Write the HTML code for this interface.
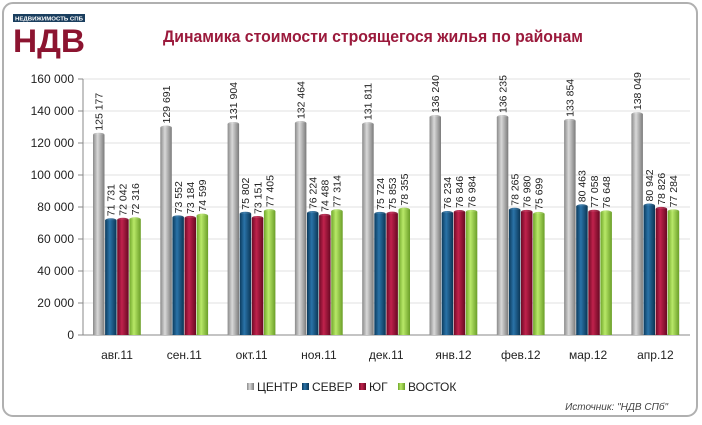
<!DOCTYPE html>
<html><head><meta charset="utf-8">
<style>
html,body{margin:0;padding:0;background:#fff;}
body{width:702px;height:420px;overflow:hidden;font-family:"Liberation Sans","DejaVu Sans",sans-serif;}
</style></head>
<body>
<svg id="c" width="702" height="420" xmlns="http://www.w3.org/2000/svg">
<defs>
<linearGradient id="g0" x1="0" x2="1"><stop offset="0" stop-color="#8a8a8a"/><stop offset="0.4" stop-color="#d8d8d8"/><stop offset="1" stop-color="#7a7a7a"/></linearGradient>
<linearGradient id="g1" x1="0" x2="1"><stop offset="0" stop-color="#0b3a5c"/><stop offset="0.4" stop-color="#2a73a8"/><stop offset="1" stop-color="#0a3554"/></linearGradient>
<linearGradient id="g2" x1="0" x2="1"><stop offset="0" stop-color="#6e0a26"/><stop offset="0.4" stop-color="#c0224c"/><stop offset="1" stop-color="#680822"/></linearGradient>
<linearGradient id="g3" x1="0" x2="1"><stop offset="0" stop-color="#6fa62a"/><stop offset="0.4" stop-color="#b8e868"/><stop offset="1" stop-color="#6a9e28"/></linearGradient>
</defs>
<rect x="3" y="3" width="694" height="413" rx="10" fill="#fff" stroke="#b0b0b0" stroke-width="2"/>
<rect x="13" y="14" width="72" height="8" fill="#1a3e5e"/>
<text x="49" y="20.5" font-size="5.8" font-weight="bold" fill="#fff" text-anchor="middle" textLength="68" lengthAdjust="spacingAndGlyphs">НЕДВИЖИМОСТЬ СПБ</text>
<text x="13" y="52" font-size="32" font-weight="bold" fill="#8c1430" textLength="72" lengthAdjust="spacingAndGlyphs">НДВ</text>
<text x="373" y="42" font-size="17" font-weight="bold" fill="#9b1a3c" text-anchor="middle" textLength="420" lengthAdjust="spacingAndGlyphs">Динамика стоимости строящегося жилья по районам</text>
<g id="plot"></g>
<text x="668" y="410" font-size="10" font-style="italic" fill="#444" text-anchor="end">Источник: "НДВ СПб"</text>
</svg>
<script>
var d=[[125177,129691,131904,132464,131811,136240,136235,133854,138049],
[71731,73552,75802,76224,75724,76234,78265,80463,80942],
[72042,73184,73151,74488,75853,76846,76980,77058,78826],
[72316,74599,77405,77314,78355,76984,75699,76648,77284]];
var cats=["авг.11","сен.11","окт.11","ноя.11","дек.11","янв.12","фев.12","мар.12","апр.12"];
var s='';
function y(v){return 335-v*0.0016;}
for(var k=0;k<=8;k++){var v=k*20000,yy=y(v);
 if(k>0)s+='<line x1="83" x2="690" y1="'+yy+'" y2="'+yy+'" stroke="#e0e0e0"/>';
 s+='<line x1="78" x2="83" y1="'+yy+'" y2="'+yy+'" stroke="#888"/>';
 var t=v==0?'0':(v/1000)+' 000';
 s+='<text x="74" y="'+(yy+4)+'" font-size="12" fill="#222" text-anchor="end">'+t+'</text>';}
s+='<line x1="83" x2="83" y1="79" y2="335" stroke="#888"/><line x1="83" x2="690" y1="335" y2="335" stroke="#888"/>';
function fmt(v){var a=String(v);return a.slice(0,a.length-3)+' '+a.slice(-3);}
for(var i=0;i<9;i++){var x0=93+i*67.3;
 for(var j=0;j<4;j++){var v=d[j][i],x=x0+j*12.1,t=y(v);
  s+='<rect x="'+x+'" y="'+t+'" width="11.5" height="'+(335-t)+'" fill="url(#g'+j+')"/>';
  s+='<ellipse cx="'+(x+5.75)+'" cy="'+t+'" rx="5.75" ry="2" fill="url(#g'+j+')" opacity="0.9"/>';
  var lx=x+9.5,ly=t-4;
  s+='<text transform="translate('+lx+','+ly+') rotate(-90)" font-size="10.5" fill="#222">'+fmt(v)+'</text>';}
 s+='<text x="'+(x0+24)+'" y="359" font-size="12" fill="#222" text-anchor="middle">'+cats[i]+'</text>';}
var lg=[["ЦЕНТР",247],["СЕВЕР",302],["ЮГ",359],["ВОСТОК",398]];
for(var j=0;j<4;j++){s+='<rect x="'+lg[j][1]+'" y="383" width="7" height="7" fill="url(#g'+j+')"/>';
 s+='<text x="'+(lg[j][1]+10)+'" y="391" font-size="12" fill="#222">'+lg[j][0]+'</text>';}
document.getElementById('plot').innerHTML=s;
</script>
</body></html>
